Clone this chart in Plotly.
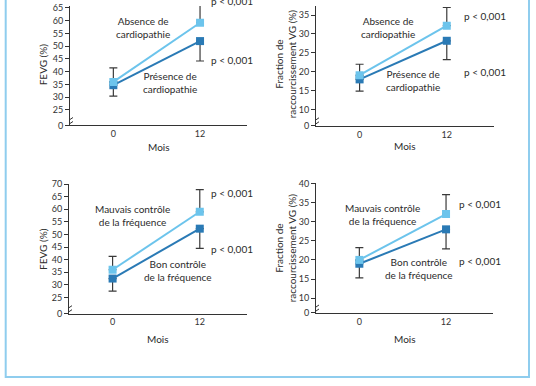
import plotly.graph_objects as go

# ---------------- data ----------------
months = [0, 12]

# Top-left: FEVG by cardiopathy
fevg_absence = [36.0, 59.2]
fevg_absence_err_up = [5.5, 8.0]
fevg_presence = [34.7, 52.0]
fevg_presence_err_down = [4.3, 7.8]

# Top-right: fraction de raccourcissement by cardiopathy
fr_absence = [19.1, 32.2]
fr_absence_err_up = [2.9, 4.8]
fr_presence = [18.0, 28.2]
fr_presence_err_down = [3.1, 5.0]

# Bottom-left: FEVG by rate control
fevg_mauvais = [36.0, 59.0]
fevg_mauvais_err_up = [5.3, 8.8]
fevg_bon = [32.5, 52.3]
fevg_bon_err_down = [5.0, 7.8]

# Bottom-right: fraction de raccourcissement by rate control
fr_mauvais = [20.0, 32.0]
fr_mauvais_err_up = [3.2, 5.1]
fr_bon = [19.0, 28.0]
fr_bon_err_down = [3.7, 5.1]

fevg_ticks_top = [25, 30, 35, 40, 45, 50, 55, 60, 65]
fevg_ticks_bottom = [25, 30, 35, 40, 45, 50, 55, 60, 65, 70]
fr_ticks_top = [10, 15, 20, 25, 30, 35]
fr_ticks_bottom = [10, 15, 20, 25, 30, 35, 40]

p_label = "p < 0,001"

# ---------------- styling ----------------
W, H = 536, 386
LIGHT = "#6cc4ec"
DARK = "#2a7ab5"
ERR = "#3a3a3a"
AX = "#333333"
FONT = "Lato, Open Sans, sans-serif"
FRAME = "#8fcdee"

def px_x(p):
    return p / W

def px_y(p):
    return 1 - p / H

panels = [
    dict(xd=(70, 247), yd=(0, 123), yr=(18.9, 65.76), ticks=fevg_ticks_top, brk=18.9,
         light=(fevg_absence, fevg_absence_err_up), dark=(fevg_presence, fevg_presence_err_down),
         light_txt="Absence de<br>cardiopathie", dark_txt="Présence de<br>cardiopathie",
         light_pos=(4.1, 57.2), dark_pos=(7.9, 35.9), p_pos=((16.4, 67.6), (16.4, 44.4)),
         ytitle="FEVG (%)", ytitle_x=43, mois_y=145),
    dict(xd=(316, 494), yd=(0, 123.3), yr=(5.74, 37.39), ticks=fr_ticks_top, brk=5.74,
         light=(fr_absence, fr_absence_err_up), dark=(fr_presence, fr_presence_err_down),
         light_txt="Absence de<br>cardiopathie", dark_txt="Présence de<br>cardiopathie",
         light_pos=(3.9, 31.65), dark_pos=(7.4, 17.6), p_pos=((17.2, 34.8), (17.2, 19.9)),
         ytitle="Fraction de<br>raccourcissement VG (%)", ytitle_x=285, mois_y=144),
    dict(xd=(69, 247), yd=(183.3, 316.7), yr=(18.56, 70), ticks=fevg_ticks_bottom, brk=18.56,
         light=(fevg_mauvais, fevg_mauvais_err_up), dark=(fevg_bon, fevg_bon_err_down),
         light_txt="Mauvais contrôle<br>de la fréquence", dark_txt="Bon contrôle<br>de la fréquence",
         light_pos=(2.8, 57.6), dark_pos=(9.0, 35.8), p_pos=((16.4, 66.5), (16.4, 44.3)),
         ytitle="FEVG (%)", ytitle_x=43, mois_y=343),
    dict(xd=(316, 493), yd=(182.7, 316), yr=(6.11, 40), ticks=fr_ticks_bottom, brk=6.11,
         light=(fr_mauvais, fr_mauvais_err_up), dark=(fr_bon, fr_bon_err_down),
         light_txt="Mauvais contrôle<br>de la fréquence", dark_txt="Bon contrôle<br>de la fréquence",
         light_pos=(3.2, 31.8), dark_pos=(8.2, 17.7), p_pos=((16.7, 34.6), (16.7, 19.8)),
         ytitle="Fraction de<br>raccourcissement VG (%)", ytitle_x=285, mois_y=343),
]

XR = [-6, 18.5]

fig = go.Figure()
annotations = []
shapes = []

for i, pn in enumerate(panels, start=1):
    xa = "x" if i == 1 else f"x{i}"
    ya = "y" if i == 1 else f"y{i}"
    dvals, derr = pn["dark"]
    lvals, lerr = pn["light"]
    fig.add_trace(go.Scatter(
        x=months, y=dvals, xaxis=xa, yaxis=ya, mode="lines+markers",
        line=dict(color=DARK, width=2), marker=dict(symbol="square", size=8, color=DARK),
        error_y=dict(type="data", symmetric=False, array=[0, 0], arrayminus=derr,
                     color=ERR, thickness=1.2, width=4),
        showlegend=False, cliponaxis=False, hoverinfo="skip"))
    fig.add_trace(go.Scatter(
        x=months, y=lvals, xaxis=xa, yaxis=ya, mode="lines+markers",
        line=dict(color=LIGHT, width=2), marker=dict(symbol="square", size=8, color=LIGHT),
        error_y=dict(type="data", symmetric=False, array=lerr, arrayminus=[0, 0],
                     color=ERR, thickness=1.2, width=4),
        showlegend=False, cliponaxis=True, hoverinfo="skip"))

    xkey = "xaxis" if i == 1 else f"xaxis{i}"
    ykey = "yaxis" if i == 1 else f"yaxis{i}"
    fig.update_layout(**{
        xkey: dict(domain=[px_x(pn["xd"][0]), px_x(pn["xd"][1])], range=XR,
                   anchor=ya, showline=True, linecolor=AX, linewidth=1, showgrid=False,
                   zeroline=False, tickvals=months, ticktext=[str(m) for m in months],
                   ticks="", tickfont=dict(size=9, color=AX, family=FONT), fixedrange=True),
        ykey: dict(domain=[px_y(pn["yd"][1]), px_y(pn["yd"][0])], range=list(pn["yr"]),
                   anchor=xa, showline=True, linecolor=AX, linewidth=1, showgrid=False,
                   zeroline=False, tickvals=[pn["brk"]] + pn["ticks"],
                   ticktext=["0"] + [str(t) for t in pn["ticks"]],
                   ticks="outside", ticklen=4, tickcolor=AX, tickwidth=1,
                   tickfont=dict(size=9, color=AX, family=FONT), fixedrange=True),
    })

    y0, y1 = pn["yr"]
    tf = dict(size=10, color="#2b2b2b", family=FONT)
    annotations.append(dict(xref=xa, yref=ya, x=pn["light_pos"][0], y=pn["light_pos"][1],
                            text=pn["light_txt"], showarrow=False, font=tf, align="center",
                            xanchor="center", yanchor="middle"))
    annotations.append(dict(xref=xa, yref=ya, x=pn["dark_pos"][0], y=pn["dark_pos"][1],
                            text=pn["dark_txt"], showarrow=False, font=tf, align="center",
                            xanchor="center", yanchor="middle"))
    for (px_, py_) in pn["p_pos"]:
        annotations.append(dict(xref=xa, yref=ya + " domain", x=px_, y=(py_ - y0) / (y1 - y0),
                                text=p_label, showarrow=False, font=tf,
                                xanchor="center", yanchor="middle"))
    # y axis title
    yc = (pn["yd"][0] + pn["yd"][1]) / 2 if pn["yd"][0] > 0 else 60
    annotations.append(dict(xref="paper", yref="paper", x=px_x(pn["ytitle_x"]), y=px_y(yc),
                            text=pn["ytitle"], textangle=-90, showarrow=False,
                            font=tf, align="center", xanchor="center", yanchor="middle"))
    # x axis title
    annotations.append(dict(xref="paper", yref="paper",
                            x=px_x((pn["xd"][0] + pn["xd"][1]) / 2), y=px_y(pn["mois_y"]),
                            text="Mois", showarrow=False, font=tf,
                            xanchor="center", yanchor="middle"))
    # axis break marks
    for dy in (-3, 1):
        shapes.append(dict(type="line", xref=xa, yref=ya, xsizemode="pixel", ysizemode="pixel",
                           xanchor=XR[0], yanchor=pn["brk"], x0=-3, x1=3, y0=dy + 3, y1=dy + 7,
                           line=dict(color=AX, width=1)))

# surrounding frame
shapes.append(dict(type="rect", xref="paper", yref="paper",
                   x0=px_x(5.7), x1=px_x(529), y0=px_y(382), y1=px_y(-10),
                   line=dict(color=FRAME, width=2), layer="below"))

fig.update_layout(
    width=W, height=H, margin=dict(l=0, r=0, t=0, b=0),
    paper_bgcolor="white", plot_bgcolor="rgba(0,0,0,0)",
    annotations=annotations, shapes=shapes, font=dict(family=FONT),
    hovermode=False, dragmode=False,
)

fig.write_html("out.html", config={"displayModeBar": False, "staticPlot": True},
               post_script="document.body.style.margin='0';document.body.style.overflow='hidden';")
